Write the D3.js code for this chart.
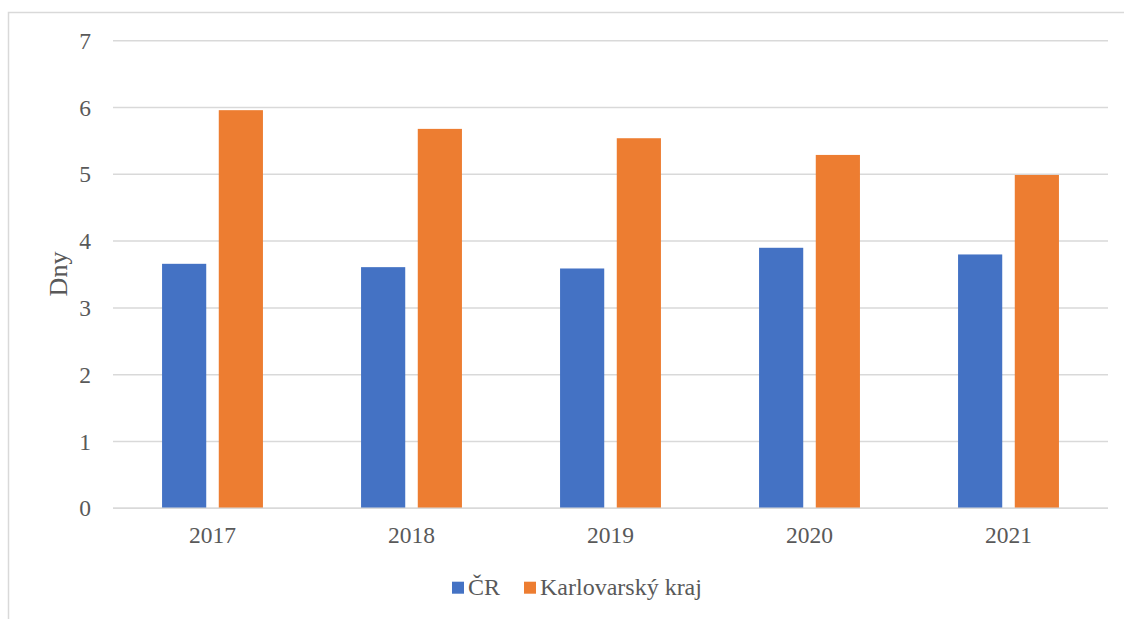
<!DOCTYPE html>
<html>
<head>
<meta charset="utf-8">
<script src="https://cdn.jsdelivr.net/npm/d3@7"></script>
<style>
  html, body { margin: 0; padding: 0; background: #fff; overflow: hidden; }
  svg { display: block; }
  text { font-family: "Liberation Serif", "Times New Roman", serif; fill: #595959; }
</style>
</head>
<body>
<script>
const categories = ["2017", "2018", "2019", "2020", "2021"];
const seriesNames = ["ČR", "Karlovarský kraj"];
const valuesCR = [3.66, 3.61, 3.59, 3.90, 3.80];
const valuesKK = [5.96, 5.68, 5.54, 5.29, 4.99];
const yTicks = [0, 1, 2, 3, 4, 5, 6, 7];
const colors = ["#4472C4", "#ED7D31"];

const W = 1124, H = 619;
const svg = d3.select("body").append("svg").attr("width", W).attr("height", H);

// outer chart border (extends past the right and bottom edges)
svg.append("rect")
  .attr("x", 8.5).attr("y", 12.5).attr("width", 1140).attr("height", 640)
  .attr("fill", "none").attr("stroke", "#d9d9d9").attr("stroke-width", 1.5);

const mLeft = 113, mRight = 1108, mTop = 40.7, mBottom = 508.3;

const x = d3.scaleBand().domain(categories).range([mLeft, mRight]).paddingInner(0).paddingOuter(0);
const y = d3.scaleLinear().domain([0, 7]).range([mBottom, mTop]);

// gridlines
svg.append("g").selectAll("line").data(yTicks).join("line")
  .attr("x1", mLeft).attr("x2", mRight)
  .attr("y1", d => y(d)).attr("y2", d => y(d))
  .attr("stroke", "#d9d9d9").attr("stroke-width", 1.5);

// y tick labels via axis
const yAxis = svg.append("g").attr("transform", `translate(${mLeft},0)`)
  .call(d3.axisLeft(y).tickValues(yTicks).tickSize(0).tickPadding(22).tickFormat(d3.format("d")));
yAxis.select(".domain").remove();
yAxis.selectAll("text").style("font-size", "23.5px").attr("fill", "#595959")
  .style("font-family", '"Liberation Serif", serif');

// x axis labels
const xAxis = svg.append("g").attr("transform", `translate(0,${mBottom})`)
  .call(d3.axisBottom(x).tickSize(0).tickPadding(18));
xAxis.select(".domain").remove();
xAxis.selectAll("text").style("font-size", "23.5px").attr("fill", "#595959")
  .style("font-family", '"Liberation Serif", serif');

// bars
const bw = x.bandwidth();
const barW = bw * 0.222;
const gap = bw * 0.063;
const series = [valuesCR, valuesKK];
series.forEach((vals, si) => {
  svg.append("g").selectAll("rect").data(vals).join("rect")
    .attr("x", (d, i) => {
      const c = x(categories[i]) + bw / 2;
      return si === 0 ? c - gap / 2 - barW : c + gap / 2;
    })
    .attr("y", d => y(d))
    .attr("width", barW)
    .attr("height", d => y(0) - y(d))
    .attr("fill", colors[si]);
});

// baseline
svg.append("line")
  .attr("x1", mLeft).attr("x2", mRight)
  .attr("y1", y(0)).attr("y2", y(0))
  .attr("stroke", "#d9d9d9").attr("stroke-width", 1.5);

// y axis title
svg.append("text")
  .attr("transform", `translate(67,274) rotate(-90)`)
  .attr("text-anchor", "middle")
  .style("font-size", "26px")
  .text("Dny");

// legend
const legend = svg.append("g");
const legItems = [{name: seriesNames[0], x: 452}, {name: seriesNames[1], x: 524}];
legItems.forEach((it, i) => {
  legend.append("rect").attr("x", it.x).attr("y", 581.7).attr("width", 12).attr("height", 12).attr("fill", colors[i]);
  legend.append("text").attr("x", it.x + 16).attr("y", 595).style("font-size", "24px").text(it.name);
});
</script>
</body>
</html>
